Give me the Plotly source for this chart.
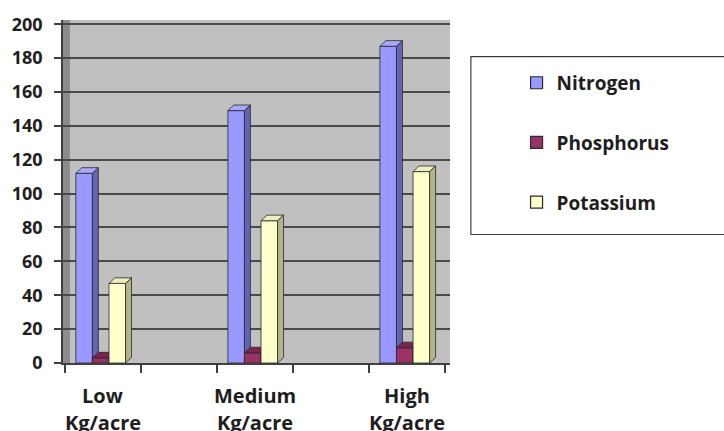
import plotly.graph_objects as go

# ---- data ----
categories_line1 = ["Low", "Medium", "High"]
categories_line2 = ["Kg/acre", "Kg/acre", "Kg/acre"]
series_names = ["Nitrogen", "Phosphorus", "Potassium"]
nitrogen = [112, 149, 187]
phosphorus = [3, 6, 9]
potassium = [47, 84, 113]
y_ticks = [0, 20, 40, 60, 80, 100, 120, 140, 160, 180, 200]

values = [nitrogen, phosphorus, potassium]
front_colors = ["#9999FF", "#993366", "#FFFFCC"]
top_colors = ["#A8A8FF", "#7A2450", "#EDEDBE"]
side_colors = ["#6464B4", "#6B1F47", "#B4B48C"]
edge = "#2A2A2A"

# ---- geometry (axis units) ----
slot_pos = [2 * i for i in range(len(categories_line1))]  # blank slot between groups
bar_w = 0.218
dx = 0.0785
dy = 3.3
x_min, x_max = -0.526, 4.565
y_min, y_max = 0, 202.5

fig = go.Figure()

for s, vals in enumerate(values):
    fx, fy, tx, ty, sx, sy = [], [], [], [], [], []
    for c, v in zip(slot_pos, vals):
        x0 = c - 0.03 + (s - 1.5) * bar_w
        x1 = x0 + bar_w
        fx += [x0, x1, x1, x0, x0, None]
        fy += [0, 0, v, v, 0, None]
        tx += [x0, x0 + dx, x1 + dx, x1, x0, None]
        ty += [v, v + dy, v + dy, v, v, None]
        sx += [x1, x1 + dx, x1 + dx, x1, x1, None]
        sy += [0, dy, v + dy, v, 0, None]
    for xs, ys, col in ((fx, fy, front_colors[s]), (tx, ty, top_colors[s]), (sx, sy, side_colors[s])):
        fig.add_trace(go.Scatter(x=xs, y=ys, mode="lines", fill="toself", fillcolor=col,
                                 line=dict(color=edge, width=0.8), showlegend=False,
                                 hoverinfo="skip"))

# legend entries
for s, name in enumerate(series_names):
    fig.add_trace(go.Bar(x=[None], y=[None], name=name, legendgroup=name,
                         marker=dict(color=front_colors[s], line=dict(color=edge, width=1.2))))

# category labels (two lines)
for c, l1, l2 in zip(slot_pos, categories_line1, categories_line2):
    for txt, py in ((l1, 396), (l2, 423)):
        fig.add_annotation(x=c, y=(363 - py) / 347, xref="x", yref="paper", text=txt,
                           showarrow=False, yanchor="middle", xanchor="center",
                           font=dict(family="Open Sans", size=20, color="#1E1E1E", weight="bold"))

# left side wall
fig.add_shape(type="rect", xref="x", yref="y", x0=x_min, x1=x_min + 7 / 76.4, y0=0, y1=y_max,
              fillcolor="#8C8C8C", line=dict(width=0), layer="below")

# legend box
fig.add_shape(type="rect", xref="paper", yref="paper", x0=1.054, x1=1.712, y0=0.3746, y1=0.8934,
              line=dict(color="#3C3C3C", width=1.2), fillcolor="rgba(0,0,0,0)")

fig.update_layout(
    width=724, height=431,
    margin=dict(l=61, r=274, t=16, b=68),
    paper_bgcolor="white", plot_bgcolor="#C0C0C0",
    showlegend=True,
    legend=dict(x=1.172, y=0.872, xanchor="left", yanchor="top", bgcolor="rgba(0,0,0,0)",
                borderwidth=0, tracegroupgap=32,
                font=dict(family="Open Sans", size=19, color="#1E1E1E", weight="bold")),
    xaxis=dict(range=[x_min, x_max], tickvals=[p - 0.5 for p in range(6)], showticklabels=False,
               ticks="outside", ticklen=8, tickwidth=1.5, tickcolor="#404040",
               showgrid=False, zeroline=False, showline=True, linecolor="#404040", linewidth=1.5,
               fixedrange=True),
    yaxis=dict(range=[y_min, y_max], tickvals=y_ticks, ticks="outside", ticklen=7, tickwidth=1.5,
               tickcolor="#404040", ticklabelstandoff=8,
               tickfont=dict(family="Open Sans", size=18, color="#1E1E1E", weight="bold"),
               showgrid=True, gridcolor="#4A4A4A", gridwidth=1.8, zeroline=False,
               showline=True, linecolor="#404040", linewidth=1.5, fixedrange=True),
)

fig.write_html("out.html")
